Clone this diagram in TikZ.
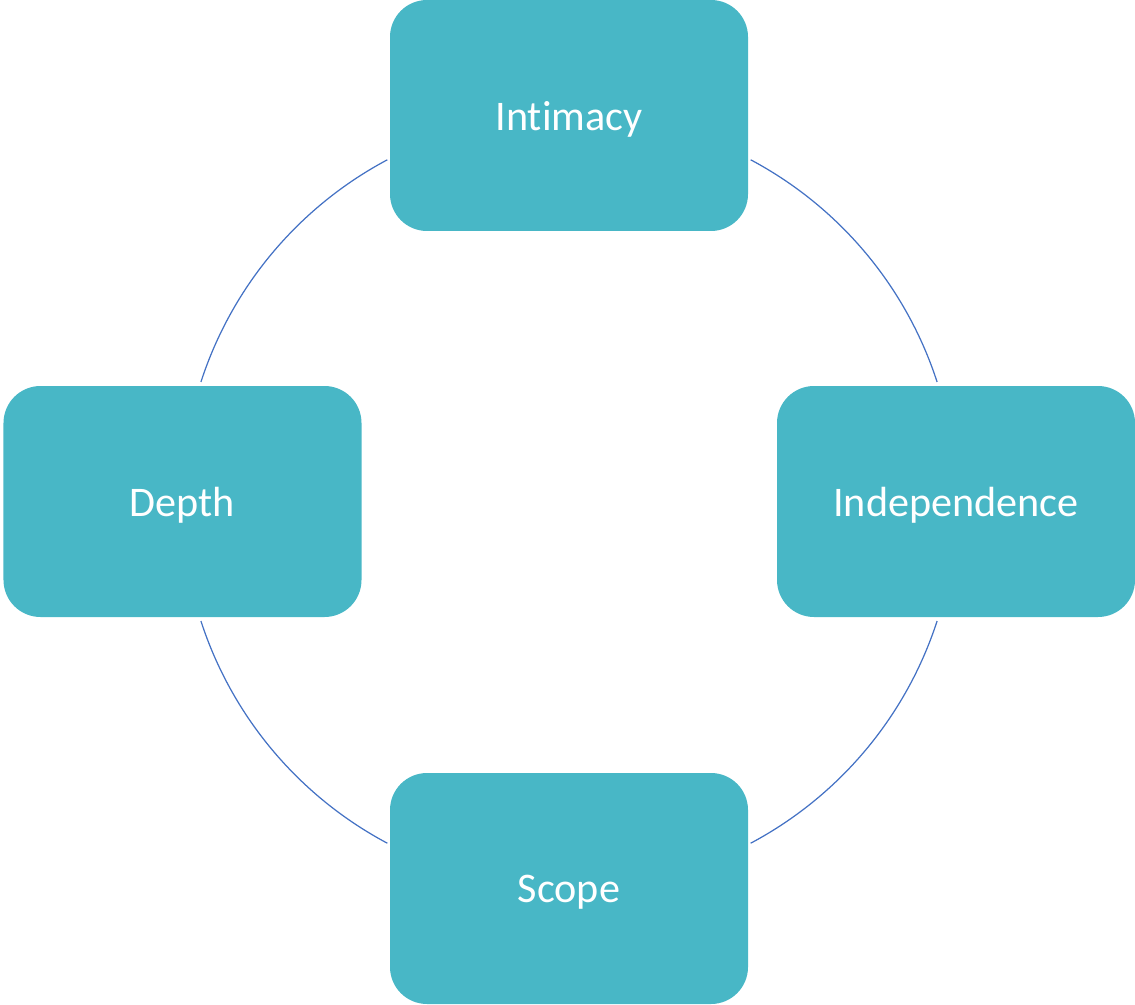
\documentclass[tikz,border=0pt]{standalone}
\usepackage{fontspec}
\setmainfont[Ligatures=NoCommon]{Carlito}
\usepackage{xcolor}
\definecolor{boxteal}{HTML}{48B7C6}
\definecolor{arcblue}{HTML}{4472C4}

\begin{document}
\begin{tikzpicture}[
    stage/.style={fill=boxteal, rounded corners=0.37cm, minimum width=3.58cm,
        minimum height=2.31cm, text=white, font=\fontsize{12}{14}\selectfont,
        inner sep=0pt, text depth=-0.03cm},
    link/.style={arcblue, line width=0.35pt}
  ]
        % Frame of the picture
        \useasboundingbox (0, 0) rectangle (11.35, 10.04);

        % Centre of the cycle
        \coordinate (ctr) at (5.69, 5.025);
        \def\rad{3.87}

        % The four boxes
        \node[stage] (intimacy) at (5.69, 8.885) {Intimacy};
        \node[stage] (independence) at (9.56, 5.025) {Independence};
        \node[stage] (scope) at (5.69, 1.155) {Scope};
        \node[stage] (depth) at (1.825, 5.025) {Depth};

        % Arcs between boxes
        \draw[link] ([shift={(18:\rad)}]ctr) arc[start angle=18, end angle=62, radius=\rad];
        \draw[link] ([shift={(118:\rad)}]ctr) arc[start angle=118, end angle=162, radius=\rad];
        \draw[link] ([shift={(198:\rad)}]ctr) arc[start angle=198, end angle=242, radius=\rad];
        \draw[link] ([shift={(298:\rad)}]ctr) arc[start angle=298, end angle=342, radius=\rad];
\end{tikzpicture}
\end{document}
